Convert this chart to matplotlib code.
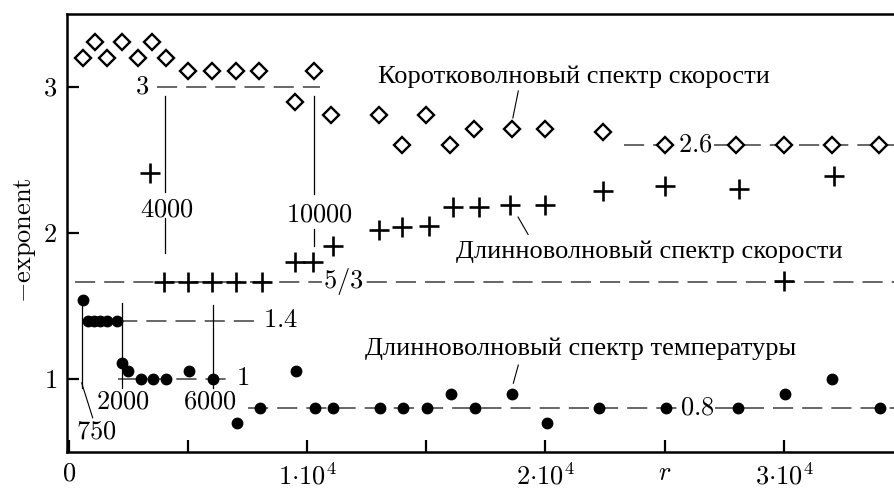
import matplotlib
matplotlib.use('Agg')
import matplotlib.pyplot as plt

plt.rcParams['mathtext.fontset'] = 'cm'
plt.rcParams['font.family'] = ['Liberation Serif', 'DejaVu Serif']
plt.rcParams['lines.scale_dashes'] = False

# ---- data ----
# short-wave velocity spectrum (diamonds)
sw_r = [590, 1100, 1600, 2250, 2900, 3500, 4100, 5000, 6000, 7000, 8000, 9500,
        10300, 11000, 13000, 14000, 15000, 16000, 17000, 18600, 20000, 22400,
        25000, 28000, 30000, 32000, 34000]
sw_e = [3.2, 3.31, 3.2, 3.31, 3.2, 3.31, 3.2, 3.11, 3.11, 3.11, 3.11, 2.9,
        3.11, 2.81, 2.81, 2.6, 2.81, 2.6, 2.71, 2.71, 2.71, 2.69,
        2.6, 2.6, 2.6, 2.6, 2.6]

# long-wave velocity spectrum (pluses)
lw_r = [3400, 4000, 5000, 6000, 7000, 8100, 9500, 10250, 11100, 13000, 14000,
        15100, 16100, 17200, 18500, 20000, 22400, 25000, 28100, 30000, 32100]
lw_e = [2.41, 1.667, 1.667, 1.667, 1.667, 1.667, 1.80, 1.80, 1.91, 2.02, 2.04,
        2.05, 2.18, 2.18, 2.19, 2.19, 2.29, 2.32, 2.30, 1.67, 2.39]

# long-wave temperature spectrum (dots)
t_r = [590, 800, 1060, 1330, 1600, 2010, 2220, 2500, 3030, 3550, 4070, 5060,
       6040, 7050, 8020, 9530, 10330, 11070, 13060, 14040, 15040, 16020, 17040,
       18580, 20050, 22260, 25040, 28060, 30050, 32030, 34030]
t_e = [1.54, 1.4, 1.4, 1.4, 1.4, 1.4, 1.107, 1.057, 1.0, 1.0, 1.0, 1.057,
       1.0, 0.70, 0.8, 1.057, 0.8, 0.8, 0.8, 0.8, 0.8, 0.9, 0.8,
       0.9, 0.7, 0.8, 0.8, 0.8, 0.9, 1.0, 0.8]

x_ticks = [0, 5000, 10000, 15000, 20000, 25000, 30000]
x_ticklabels = [r'$0$', '', r'$1{\cdot}10^4$', '', r'$2{\cdot}10^4$', r'$r$', r'$3{\cdot}10^4$']
y_ticks = [1, 2, 3]
y_ticklabels = [r'$1$', r'$2$', r'$3$']

# ---- figure ----
fig = plt.figure(figsize=(8.95, 4.9), dpi=100)
ax = fig.add_axes([67 / 895, 1 - 452 / 490, 833 / 895, 438 / 490])
ax.set_xlim(-71, 34870)
ax.set_ylim(0.5, 3.5)

FS = 19
GRAY = '#4d4d4d'
DASH = (14.5, 6.5)


def hline(y, x0, x1):
    ax.plot([x0, x1], [y, y], color=GRAY, lw=1.2, dashes=DASH, zorder=1)


def vline(x, y0, y1):
    ax.plot([x, x], [y0, y1], color='black', lw=0.9, zorder=1)


def seg(x0, y0, x1, y1):
    ax.plot([x0, x1], [y0, y1], color='black', lw=0.8, zorder=1)


# reference levels
hline(3.0, 3710, 10540)
ax.text(3080, 3.0, r'$3$', ha='center', va='center', fontsize=FS)

hline(5 / 3, 265, 34700)
ax.text(11510, 5 / 3, r'$5/3$', ha='center', va='center', fontsize=FS,
        bbox=dict(fc='white', ec='none', pad=1), zorder=2)

hline(1.4, 810, 8110)
ax.text(8150, 1.4, r'$1.4$', ha='left', va='center', fontsize=FS)

hline(1.0, 2070, 6860)
ax.text(7020, 1.0, r'$1$', ha='left', va='center', fontsize=FS)

hline(0.8, 7530, 34870)
ax.text(26350, 0.8, r'$0.8$', ha='center', va='center', fontsize=FS,
        bbox=dict(fc='white', ec='none', pad=1), zorder=2)

hline(2.6, 23300, 34870)
ax.text(26270, 2.6, r'$2.6$', ha='center', va='center', fontsize=FS,
        bbox=dict(fc='white', ec='none', pad=1), zorder=2)

# transition markers
vline(570, 1.54, 0.94)
seg(545, 0.973, 1007, 0.734)
ax.text(1175, 0.631, r'$750$', ha='center', va='center', fontsize=FS)

vline(2240, 1.52, 0.94)
ax.text(2278, 0.836, r'$2000$', ha='center', va='center', fontsize=FS)

vline(6040, 1.505, 0.94)
ax.text(5930, 0.836, r'$6000$', ha='center', va='center', fontsize=FS)

vline(4040, 2.94, 2.28)
vline(4040, 2.10, 1.86)
ax.text(4110, 2.155, r'$4000$', ha='center', va='center', fontsize=FS)

vline(10300, 2.94, 2.27)
vline(10300, 2.03, 1.91)
ax.text(10500, 2.12, r'$10000$', ha='center', va='center', fontsize=FS)

# series
ax.plot(sw_r, sw_e, ls='none', marker='D', ms=7.7, mfc='white', mec='black',
        mew=1.7, zorder=3)
ax.plot(lw_r, lw_e, ls='none', marker='+', ms=13.7, mec='black', mew=1.9,
        zorder=3)
ax.plot(t_r, t_e, ls='none', marker='o', ms=7.5, mfc='black', mec='black',
        mew=1, zorder=3)

# callouts
ax.text(12980, 3.029, 'Коротковолновый спектр скорости', ha='left',
        va='baseline', fontsize=FS)
seg(18860, 2.973, 18630, 2.788)

ax.text(16245, 1.826, 'Длинноволновый спектр скорости', ha='left',
        va='baseline', fontsize=FS)
seg(18850, 2.109, 19270, 1.99)

ax.text(12430, 1.164, 'Длинноволновый спектр температуры', ha='left',
        va='baseline', fontsize=FS)
seg(18860, 1.096, 18650, 0.971)

# axes styling
ax.set_xticks(x_ticks)
ax.set_xticklabels(x_ticklabels)
ax.set_yticks(y_ticks)
ax.set_yticklabels(y_ticklabels)
ax.tick_params(axis='both', direction='in', length=8.6, width=1.6,
               labelsize=FS, top=False, right=False)
ax.tick_params(axis='x', pad=8)
ax.tick_params(axis='y', pad=7)
for s in ax.spines.values():
    s.set_linewidth(1.8)

ax.set_ylabel(r'$-\mathrm{exponent}$', fontsize=FS)
ax.yaxis.set_label_coords((38 - 67) / 833, 0.484)

fig.savefig('out.png', dpi=100)
